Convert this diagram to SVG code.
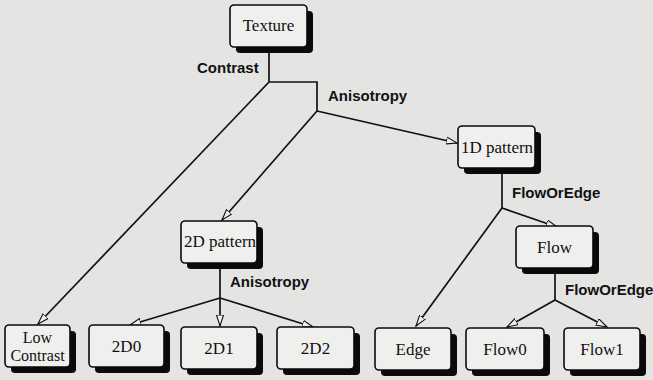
<svg xmlns="http://www.w3.org/2000/svg" width="653" height="380" viewBox="0 0 653 380">
<style>
.bg{fill:#e4e4e2}
.sh{fill:#0a0a0a}
.bx{fill:#efefed;stroke:#0a0a0a;stroke-width:1.6}
.nt{font-family:"Liberation Serif","Times New Roman",serif;font-size:17px;fill:#111;text-anchor:middle}
.sm{font-size:16px}
.el{font-family:"Liberation Sans",Arial,sans-serif;font-size:15px;font-weight:bold;fill:#111}
.cn{fill:none;stroke:#111;stroke-width:1.7}
</style>
<defs>
<marker id="ar" markerWidth="12" markerHeight="8" refX="11" refY="4" orient="auto" markerUnits="userSpaceOnUse">
<path d="M0,0.5 L11,4 L0,7.5 Z" fill="#efefed" stroke="#111" stroke-width="1.1"/>
</marker>
</defs>
<rect class="bg" x="0" y="0" width="653" height="380"/>
<g id="connectors">
<polyline class="cn" points="269,53 269,82 317,82 317,111"/>
<line class="cn" x1="269" y1="82" x2="38" y2="324" marker-end="url(#ar)"/>
<line class="cn" x1="317" y1="111" x2="222" y2="220" marker-end="url(#ar)"/>
<line class="cn" x1="317" y1="111" x2="457" y2="143" marker-end="url(#ar)"/>
<line class="cn" x1="502" y1="174" x2="502" y2="208"/>
<line class="cn" x1="502" y1="208" x2="557" y2="227" marker-end="url(#ar)"/>
<line class="cn" x1="502" y1="208" x2="416" y2="326" marker-end="url(#ar)"/>
<line class="cn" x1="555" y1="274" x2="555" y2="300"/>
<line class="cn" x1="555" y1="300" x2="507" y2="327" marker-end="url(#ar)"/>
<line class="cn" x1="555" y1="300" x2="607" y2="327" marker-end="url(#ar)"/>
<line class="cn" x1="220" y1="269" x2="220" y2="298"/>
<line class="cn" x1="220" y1="298" x2="130" y2="325" marker-end="url(#ar)"/>
<line class="cn" x1="220" y1="298" x2="220" y2="326" marker-end="url(#ar)"/>
<line class="cn" x1="220" y1="298" x2="313" y2="327" marker-end="url(#ar)"/>
<text class="el" x="197" y="73">Contrast</text>
<text class="el" x="328" y="101">Anisotropy</text>
<text class="el" x="512" y="198">FlowOrEdge</text>
<text class="el" x="565" y="295">FlowOrEdge</text>
<text class="el" x="230" y="287">Anisotropy</text>
</g>
<g id="texture">
<rect class="sh" x="236" y="11" width="77" height="42" rx="4"/>
<rect class="bx" x="230" y="5" width="77" height="42" rx="4"/>
<text class="nt" x="268.5" y="31">Texture</text>
</g>
<g id="p1d">
<rect class="sh" x="464" y="132" width="77" height="42" rx="4"/>
<rect class="bx" x="458" y="126" width="77" height="42" rx="4"/>
<text class="nt" x="497" y="153">1D pattern</text>
</g>
<g id="p2d">
<rect class="sh" x="187" y="227" width="76" height="42" rx="4"/>
<rect class="bx" x="181" y="221" width="76" height="42" rx="4"/>
<text class="nt" x="220" y="247">2D pattern</text>
</g>
<g id="flow">
<rect class="sh" x="522" y="232" width="77" height="42" rx="4"/>
<rect class="bx" x="516" y="226" width="77" height="42" rx="4"/>
<text class="nt" x="554.5" y="253">Flow</text>
</g>
<g id="lowcontrast">
<rect class="sh" x="11" y="331" width="65" height="42" rx="4"/>
<rect class="bx" x="5" y="325" width="65" height="42" rx="4"/>
<text class="nt sm" x="37.5" y="343">Low</text>
<text class="nt sm" x="37.5" y="361">Contrast</text>
</g>
<g id="n2d0">
<rect class="sh" x="95" y="331" width="75" height="42" rx="4"/>
<rect class="bx" x="89" y="325" width="75" height="42" rx="4"/>
<text class="nt" x="126.5" y="352">2D0</text>
</g>
<g id="n2d1">
<rect class="sh" x="187" y="333" width="76" height="42" rx="4"/>
<rect class="bx" x="181" y="327" width="76" height="42" rx="4"/>
<text class="nt" x="219" y="354">2D1</text>
</g>
<g id="n2d2">
<rect class="sh" x="283" y="333" width="77" height="42" rx="4"/>
<rect class="bx" x="277" y="327" width="77" height="42" rx="4"/>
<text class="nt" x="315.5" y="354">2D2</text>
</g>
<g id="edge">
<rect class="sh" x="381" y="334" width="76" height="42" rx="4"/>
<rect class="bx" x="375" y="328" width="76" height="42" rx="4"/>
<text class="nt" x="413" y="355">Edge</text>
</g>
<g id="flow0">
<rect class="sh" x="472" y="334" width="78" height="42" rx="4"/>
<rect class="bx" x="466" y="328" width="78" height="42" rx="4"/>
<text class="nt" x="505" y="355">Flow0</text>
</g>
<g id="flow1">
<rect class="sh" x="570" y="334" width="76" height="42" rx="4"/>
<rect class="bx" x="564" y="328" width="76" height="42" rx="4"/>
<text class="nt" x="602" y="355">Flow1</text>
</g>
</svg>
